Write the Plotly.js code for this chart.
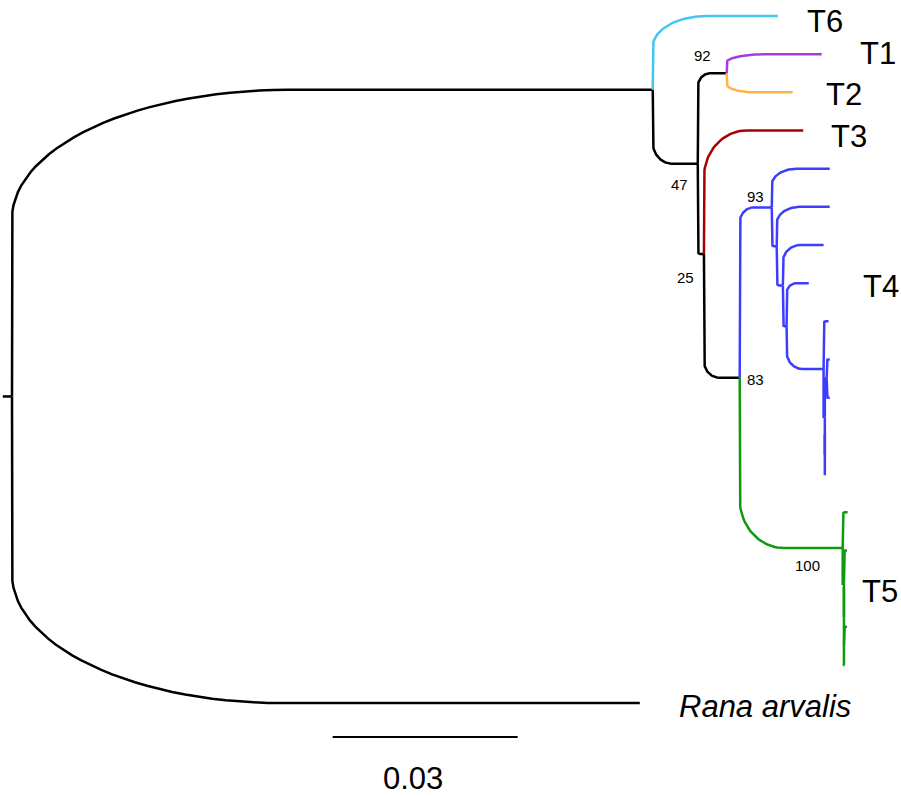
<!DOCTYPE html>
<html><head><meta charset="utf-8">
<script src="https://cdn.plot.ly/plotly-3.0.1.min.js"></script>
<style>html,body{margin:0;padding:0;background:#fff}#chart{width:901px;height:796px}</style>
</head><body><div id="chart"></div>
<script>
// ---- Tree data (branch lengths in substitutions/site) ----
const nodeNames = ['root','A','T6','B','C','T1','T2','D','T3','E','F','t4a','F2','t4b','F3','t4c','F4','t4d','F5','t4e','S','S2','t4f','t4g','S3','t4h','t4i','G','t5a','H','t5b','H2','t5c','H3','t5d','t5e','Rana arvalis'];
const parentNames = [null,'root','A','A','B','C','C','B','D','D','E','F','F','F2','F2','F3','F3','F4','F4','F5','F5','S','S2','S2','S','S3','S3','E','G','G','H','H','H2','H2','H3','H3','root'];
const branchLengths = [0,0.1039,0.0203,0.0073,0.0047,0.0154,0.0107,0.0010,0.0161,0.0058,0.0052,0.0094,0.0008,0.0086,0.0010,0.0066,0.0006,0.0036,0.0060,0.0008,0.0002,0.0003,0.0005,0.0005,0.0000,0.0002,0.0002,0.0167,0.0008,0.0002,0.0005,0.0000,0.0001,0.0000,0.0005,0.0001,0.1018];
const branchGroups = ['black','black','T6','black','black','T1','T2','black','T3','black','T4','T4','T4','T4','T4','T4','T4','T4','T4','T4','T4','T4','T4','T4','T4','T4','T4','T5','T5','T5','T5','T5','T5','T5','T5','T5','black'];
const rootEdge = 0.0015;

// bootstrap support
const supportNodes = ['C','B','D','E','F','G'];
const supportValues = ['92','47','25','83','93','100'];

// clade labels
const cladeLabelNodes = ['T6','T1','T2','T3','t4d','t5c','Rana arvalis'];
const cladeLabelTexts = ['T6','T1','T2','T3','T4','T5','<i>Rana arvalis</i>'];

// scale bar
const scaleBarStart = 0.0520;
const scaleBarLength = 0.03;
const scaleBarLabel = '0.03';

// ---- styles / layout (not data) ----
const groupColors = {black:'#000000', T6:'#45c6f2', T1:'#a53ee0', T2:'#ffb347', T3:'#a80000', T4:'#3d3dff', T5:'#119a11'};
const supportShift = {C:[-24,18], B:[-18,-21], D:[-18,-23], E:[16,-2], F:[-16,11], G:[-35,-18]};
const labelShift = {'T6':[27,-5], 'T1':[36,1], 'T2':[31,-2], 'T3':[26,-6], 't4d':[52,-3], 't5c':[15,-3], 'Rana arvalis':[37,-3]};
const W = 901, H = 796;
const xRange = [-12/6167, (W-12)/6167];
const yRange = [780/38.17, -16/38.17];
const pxX = W/(xRange[1]-xRange[0]);
const pxY = H/(yRange[0]-yRange[1]);
const FONT = 'Liberation Sans, Arial, sans-serif';

// ---- layout computation ----
const idx = {}; nodeNames.forEach((n,i)=>idx[n]=i);
const children = nodeNames.map(()=>[]);
parentNames.forEach((p,i)=>{ if(p!==null) children[idx[p]].push(i); });
const X = new Array(nodeNames.length), Y = new Array(nodeNames.length);
let tipCounter = 0;
function walk(i, x){
  X[i] = x;
  if(children[i].length===0){ Y[i] = tipCounter++; return; }
  children[i].forEach(c=>walk(c, x + branchLengths[c]));
  const ys = children[i].map(c=>Y[c]);
  Y[i] = (Math.min(...ys)+Math.max(...ys))/2;
}
walk(idx['root'], 0);

// branch paths with rounded corners
const paths = {};
Object.keys(groupColors).forEach(g=>paths[g]={x:[],y:[]});
function addBranch(c){
  const p = idx[parentNames[c]];
  const g = paths[branchGroups[c]];
  const px0 = X[p], py0 = Y[p], cx = X[c], cy = Y[c];
  const dxPx = (cx-px0)*pxX, dyPx = Math.abs(cy-py0)*pxY;
  const rxPx = 0.43*dxPx;
  const ryPx = Math.min(0.42*dyPx, 1.1*rxPx);
  const sgn = cy>py0 ? 1 : -1;
  g.x.push(px0); g.y.push(py0);
  if(rxPx>0.8 && ryPx>0.8){
    const rx = rxPx/pxX, ry = ryPx/pxY;
    const N = 30;
    for(let k=0;k<=N;k++){
      const t = k/N*Math.PI/2;
      g.x.push(px0 + rx - rx*Math.cos(t));
      g.y.push(cy - sgn*ry + sgn*ry*Math.sin(t));
    }
  } else {
    g.x.push(px0); g.y.push(cy);
  }
  g.x.push(cx); g.y.push(cy);
  g.x.push(null); g.y.push(null);
}
nodeNames.forEach((n,i)=>{ if(parentNames[i]!==null) addBranch(i); });
// root edge
paths.black.x.push(-rootEdge, 0, null); paths.black.y.push(Y[idx['root']], Y[idx['root']], null);

const traces = Object.keys(paths).map(g=>({
  type:'scatter', mode:'lines', x:paths[g].x, y:paths[g].y,
  line:{color:groupColors[g], width:2.5}, hoverinfo:'skip', showlegend:false
}));
// scale bar
const sbY = Y[idx['Rana arvalis']] + 0.89;
traces.push({type:'scatter', mode:'lines', x:[scaleBarStart, scaleBarStart+scaleBarLength], y:[sbY, sbY],
  line:{color:'#000', width:2}, hoverinfo:'skip', showlegend:false});
// scale bar label as text mark (tight glyph box)
traces.push({type:'scatter', mode:'text', x:[scaleBarStart+scaleBarLength/2 - 12/pxX], y:[sbY + 44/pxY],
  text:[scaleBarLabel], textposition:'middle center', cliponaxis:false,
  textfont:{family:FONT, size:31, color:'#000'}, hoverinfo:'skip', showlegend:false});

const annotations = [];
supportNodes.forEach((n,k)=>{
  const i = idx[n];
  annotations.push({x:X[i], y:Y[i], text:supportValues[k], showarrow:false,
    xanchor:'center', yanchor:'middle', xshift:supportShift[n][0], yshift:supportShift[n][1],
    font:{family:FONT, size:15, color:'#000'}});
});
cladeLabelNodes.forEach((n,k)=>{
  const i = idx[n];
  annotations.push({x:X[i], y:Y[i], text:cladeLabelTexts[k], showarrow:false,
    xanchor:'left', yanchor:'middle', xshift:labelShift[n][0], yshift:labelShift[n][1],
    font:{family:FONT, size:31, color:'#000'}});
});

const layout = {
  width:W, height:H, margin:{l:0,r:0,t:0,b:0,pad:0},
  paper_bgcolor:'#fff', plot_bgcolor:'#fff',
  xaxis:{range:xRange, visible:false, fixedrange:true},
  yaxis:{range:yRange, visible:false, fixedrange:true},
  annotations:annotations, showlegend:false
};
Plotly.newPlot('chart', traces, layout, {displayModeBar:false, staticPlot:true});
</script>
</body></html>
